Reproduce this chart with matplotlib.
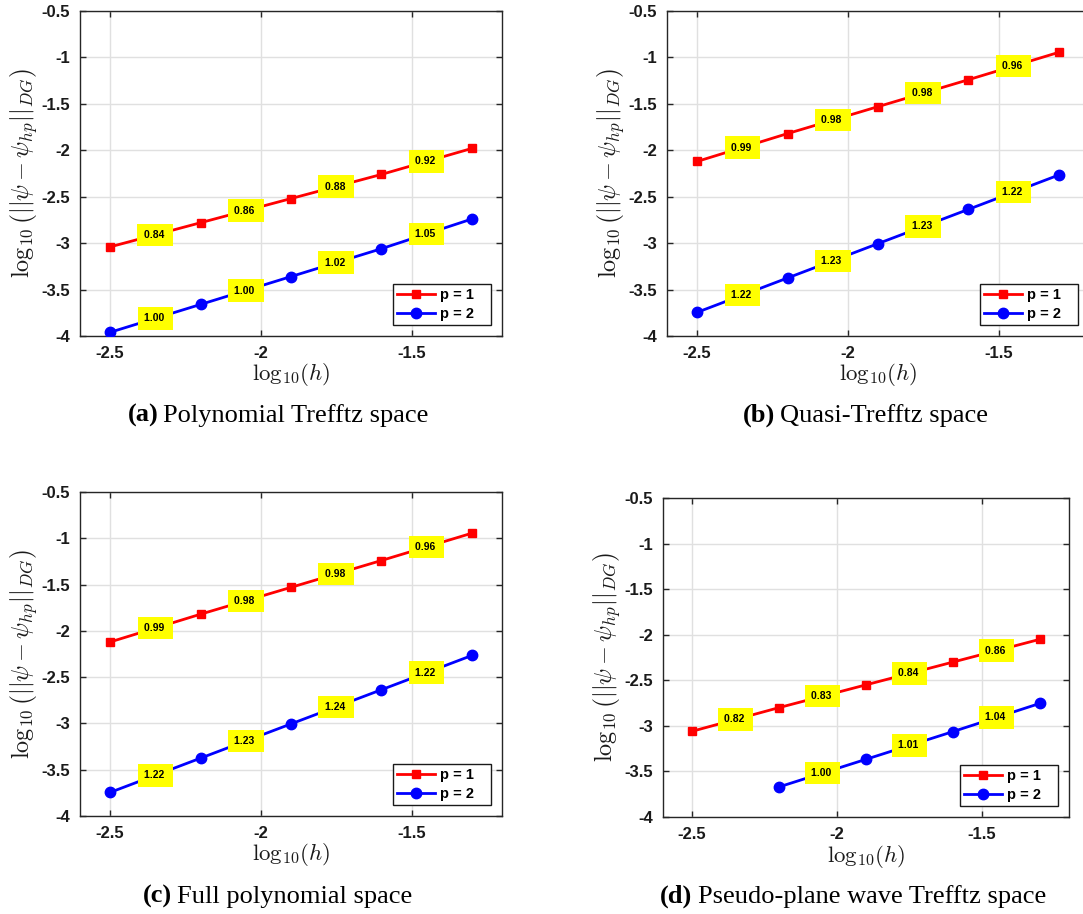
import matplotlib
matplotlib.use("Agg")
import matplotlib.pyplot as plt

W, H = 1083, 914

# ---------------- data ----------------
x_h = [-2.5, -2.2, -1.9, -1.6, -1.3]
x_h_d2 = [-2.2, -1.9, -1.6, -1.3]

a_p1 = [-3.04, -2.78, -2.52, -2.26, -1.98]
a_p2 = [-3.96, -3.66, -3.36, -3.06, -2.74]
a_r1 = ["0.84", "0.86", "0.88", "0.92"]
a_r2 = ["1.00", "1.00", "1.02", "1.05"]

b_p1 = [-2.12, -1.82, -1.53, -1.24, -0.945]
b_p2 = [-3.745, -3.375, -3.005, -2.636, -2.266]
b_r1 = ["0.99", "0.98", "0.98", "0.96"]
b_r2 = ["1.22", "1.23", "1.23", "1.22"]

c_p1 = [-2.12, -1.82, -1.53, -1.24, -0.945]
c_p2 = [-3.745, -3.375, -3.005, -2.636, -2.266]
c_r1 = ["0.99", "0.98", "0.98", "0.96"]
c_r2 = ["1.22", "1.23", "1.24", "1.22"]

d_p1 = [-3.06, -2.80, -2.55, -2.30, -2.05]
d_p2 = [-3.67, -3.367, -3.063, -2.753]
d_r1 = ["0.82", "0.83", "0.84", "0.86"]
d_r2 = ["1.00", "1.01", "1.04"]

xticks = [-2.5, -2.0, -1.5]
xtick_labels = ["-2.5", "-2", "-1.5"]
yticks = [-4, -3.5, -3, -2.5, -2, -1.5, -1, -0.5]
ytick_labels = ["-4", "-3.5", "-3", "-2.5", "-2", "-1.5", "-1", "-0.5"]

series_labels = ["p = 1", "p = 2"]

captions = [("(a)", "Polynomial Trefftz space"),
            ("(b)", "Quasi-Trefftz space"),
            ("(c)", "Full polynomial space"),
            ("(d)", "Pseudo-plane wave Trefftz space")]

plt.rcParams['mathtext.fontset'] = 'cm'
plt.rcParams['font.family'] = ['Liberation Sans', 'DejaVu Sans']

fig = plt.figure(figsize=(W / 100, H / 100), dpi=100)

# pixel boxes: left, top, right, bottom
boxes = [(80, 11, 502, 336), (667, 11, 1089, 336),
         (80, 492, 502, 816), (663, 498, 1069, 817)]
panels = [
    (x_h, a_p1, a_r1, x_h, a_p2, a_r2),
    (x_h, b_p1, b_r1, x_h, b_p2, b_r2),
    (x_h, c_p1, c_r1, x_h, c_p2, c_r2),
    (x_h, d_p1, d_r1, x_h_d2, d_p2, d_r2),
]
cap_pos = [(278, 422), (865, 422), (278, 903), (853, 903)]

red = (1, 0, 0)
blue = (0, 0, 1)
dark = (0.15, 0.15, 0.15)


def add_rates(ax, xs, ys, rates):
    for i, r in enumerate(rates):
        xm = 0.5 * (xs[i] + xs[i + 1])
        ym = 0.5 * (ys[i] + ys[i + 1])
        ax.text(xm, ym, r + " ", ha='center', va='center', fontsize=7.5,
                fontweight='bold', color='black', zorder=5,
                bbox=dict(boxstyle='square,pad=0.6', fc=(1, 1, 0), ec='none'))


for k, (box, pdat) in enumerate(zip(boxes, panels)):
    l, t, r, b = box
    ax = fig.add_axes([l / W, 1 - b / H, (r - l) / W, (b - t) / H])
    x1, y1, r1, x2, y2, r2 = pdat
    ax.plot(x1, y1, '-s', color=red, lw=2, ms=6, label=series_labels[0] + "   ", zorder=3)
    ax.plot(x2, y2, '-o', color=blue, lw=2, ms=7.5, label=series_labels[1] + "   ", zorder=3)
    add_rates(ax, x1, y1, r1)
    add_rates(ax, x2, y2, r2)
    ax.set_xlim(-2.6, -1.2)
    ax.set_ylim(-4, -0.5)
    ax.set_xticks(xticks)
    ax.set_xticklabels(xtick_labels)
    ax.set_yticks(yticks)
    ax.set_yticklabels(ytick_labels)
    ax.grid(True, color=(0.88, 0.88, 0.88), lw=1)
    ax.set_axisbelow(True)
    ax.tick_params(direction='in', length=4, width=1, top=True, right=True,
                   colors=dark, labelsize=12, pad=7)
    for lab in ax.get_xticklabels() + ax.get_yticklabels():
        lab.set_fontweight('bold')
        lab.set_color((0.1, 0.1, 0.1))
    for s in ax.spines.values():
        s.set_color(dark)
        s.set_linewidth(1)
    leg = ax.legend(loc='lower right', fancybox=False, framealpha=1,
                    edgecolor=(0.1, 0.1, 0.1), prop=dict(weight='bold', size=10.5),
                    handlelength=2.6, handletextpad=0.35, labelspacing=0.3,
                    borderpad=0.3, borderaxespad=0.75)
    leg.get_frame().set_linewidth(1)
    leg.set_zorder(10)
    # axis labels
    cx = (l + r) / 2
    cy = (t + b) / 2
    fig.text(cx / W, 1 - (b + 39) / H, r'$\mathrm{log}_{10}(h)$', ha='center', va='center',
             fontsize=16.5, color=(0.1, 0.1, 0.1))
    fig.text((l - 56) / W, 1 - cy / H,
             r'$\log_{10}\left(||\psi-\psi_{hp}||_{DG}\right)$',
             ha='center', va='center', rotation=90, fontsize=17.5, color=(0.1, 0.1, 0.1))

renderer = fig.canvas.get_renderer()
for (tag, rest), (px, py) in zip(captions, cap_pos):
    t1 = fig.text(0, 0, tag, fontsize=19, fontweight='bold', family='Liberation Serif',
                  ha='left', va='baseline')
    t2 = fig.text(0, 0, rest, fontsize=19, family='Liberation Serif',
                  ha='left', va='baseline')
    w1 = t1.get_window_extent(renderer).width
    w2 = t2.get_window_extent(renderer).width
    gap = 5
    left = px - (w1 + gap + w2) / 2
    t1.set_position((left / W, 1 - py / H))
    t2.set_position(((left + w1 + gap) / W, 1 - py / H))

fig.savefig('out.png', dpi=100)
